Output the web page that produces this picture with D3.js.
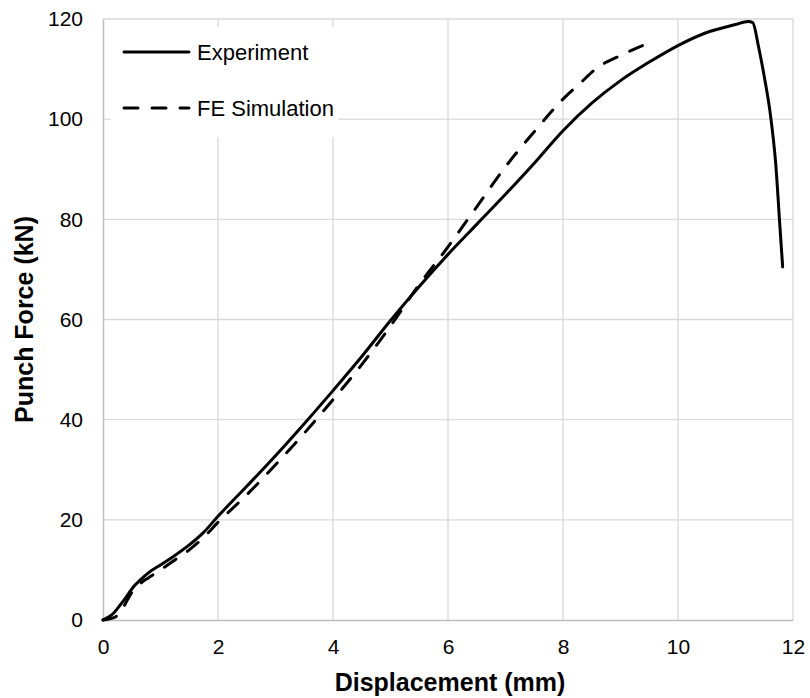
<!DOCTYPE html>
<html>
  <head>
    <meta charset="utf-8">
    <title>Punch force vs displacement</title>
    <script src="https://d3js.org/d3.v7.min.js"></script>
    <style>
      body { margin: 0; background: #fff; }
      svg text { font-family: "Liberation Sans", Arial, sans-serif; fill: #000; }
    </style>
  </head>
  <body>
    <div id="chart"></div>
    <script>
      // data: [displacement mm, force kN]
      var experiment = [
        [0, 0], [0.15, 1], [0.3, 3], [0.4, 4.5], [0.52, 6.5], [0.65, 8], [0.8, 9.5],
        [1.0, 11], [1.2, 12.5], [1.5, 15], [1.75, 17.5], [2, 20.7], [2.5, 26.7],
        [3, 32.8], [3.5, 39.2], [4, 45.8], [4.5, 52.6], [5, 59.8], [5.5, 66.6],
        [6, 73], [6.5, 79], [7, 85], [7.5, 91.2], [8, 97.7], [8.5, 103.2],
        [9, 107.7], [9.5, 111.4], [10, 114.7], [10.5, 117.3], [11, 118.9],
        [11.22, 119.5], [11.3, 119.3], [11.4, 114.5], [11.5, 108.5], [11.6, 101.5],
        [11.7, 91], [11.77, 79], [11.82, 70.5]
      ];
      var simulation = [
        [0, 0], [0.2, 0.5], [0.35, 2.5], [0.5, 5.5], [0.65, 7.3], [0.8, 8.5],
        [1, 10], [1.25, 12], [1.5, 14], [1.75, 16.5], [2, 19.5], [2.5, 25],
        [3, 31], [3.5, 37.3], [4, 44], [4.5, 51], [5, 58.7], [5.5, 67],
        [6, 74.5], [6.25, 78.5], [6.5, 82.5], [7, 90.5], [7.5, 97.5], [8, 104],
        [8.3, 107.2], [8.6, 110.3], [9, 112.7], [9.3, 114.3], [9.55, 115.5]
      ];
      var xTicks = [0, 2, 4, 6, 8, 10, 12];
      var yTicks = [0, 20, 40, 60, 80, 100, 120];
      var seriesNames = ["Experiment", "FE Simulation"];

      var width = 810, height = 698;
      var margin = { top: 19, right: 17, bottom: 78, left: 103 };

      var svg = d3.select("#chart").append("svg")
        .attr("width", width)
        .attr("height", height);

      var x = d3.scaleLinear().domain([0, 12]).range([margin.left, width - margin.right]);
      var y = d3.scaleLinear().domain([0, 120]).range([height - margin.bottom, margin.top]);

      // gridlines
      svg.append("g")
        .selectAll("line")
        .data(xTicks.slice(1))
        .join("line")
          .attr("x1", d => x(d)).attr("x2", d => x(d))
          .attr("y1", y(0)).attr("y2", y(120))
          .attr("stroke", "#d9d9d9").attr("stroke-width", 1.3);
      svg.append("g")
        .selectAll("line")
        .data(yTicks.slice(1))
        .join("line")
          .attr("x1", x(0)).attr("x2", x(12))
          .attr("y1", d => y(d)).attr("y2", d => y(d))
          .attr("stroke", "#d9d9d9").attr("stroke-width", 1.3);

      // axes
      var xAxis = svg.append("g")
        .attr("transform", "translate(0," + y(0) + ")")
        .call(d3.axisBottom(x).tickValues(xTicks).tickSize(0).tickPadding(19));
      var yAxis = svg.append("g")
        .attr("transform", "translate(" + x(0) + ",0)")
        .call(d3.axisLeft(y).tickValues(yTicks).tickSize(0).tickPadding(20));
      [xAxis, yAxis].forEach(function(a) {
        a.select(".domain").attr("stroke", "#bfbfbf").attr("stroke-width", 1.5);
        a.selectAll("text").style("font-size", "21px").attr("font-family", null);
      });

      // axis titles
      svg.append("text")
        .attr("x", 450)
        .attr("y", 691)
        .attr("text-anchor", "middle")
        .style("font-size", "25px")
        .style("font-weight", "bold")
        .text("Displacement (mm)");
      svg.append("text")
        .attr("transform", "translate(33," + ((y(0) + y(120)) / 2) + ") rotate(-90)")
        .attr("text-anchor", "middle")
        .style("font-size", "25px")
        .style("font-weight", "bold")
        .text("Punch Force (kN)");

      // lines
      var line = d3.line()
        .x(d => x(d[0]))
        .y(d => y(d[1]))
        .curve(d3.curveMonotoneX);

      svg.append("path")
        .datum(simulation)
        .attr("d", line)
        .attr("fill", "none")
        .attr("stroke", "#000")
        .attr("stroke-width", 3)
        .attr("stroke-linecap", "round")
        .attr("stroke-dasharray", "14,14");

      svg.append("path")
        .datum(experiment)
        .attr("d", line)
        .attr("fill", "none")
        .attr("stroke", "#000")
        .attr("stroke-width", 3)
        .attr("stroke-linejoin", "round")
        .attr("stroke-linecap", "round");

      // legend
      var legend = svg.append("g");
      legend.append("rect")
        .attr("x", 111).attr("y", 27)
        .attr("width", 227).attr("height", 110)
        .attr("fill", "#fff");
      var items = legend.selectAll("g")
        .data(seriesNames)
        .join("g")
          .attr("transform", (d, i) => "translate(0," + (52 + i * 56) + ")");
      items.append("line")
        .attr("x1", 124).attr("x2", 189)
        .attr("stroke", "#000")
        .attr("stroke-width", 3)
        .attr("stroke-linecap", "round")
        .attr("stroke-dasharray", (d, i) => i ? "14,14" : null);
      items.append("text")
        .attr("x", 197)
        .attr("dy", "0.35em")
        .style("font-size", "22px")
        .text(d => d);
    </script>
  </body>
</html>
